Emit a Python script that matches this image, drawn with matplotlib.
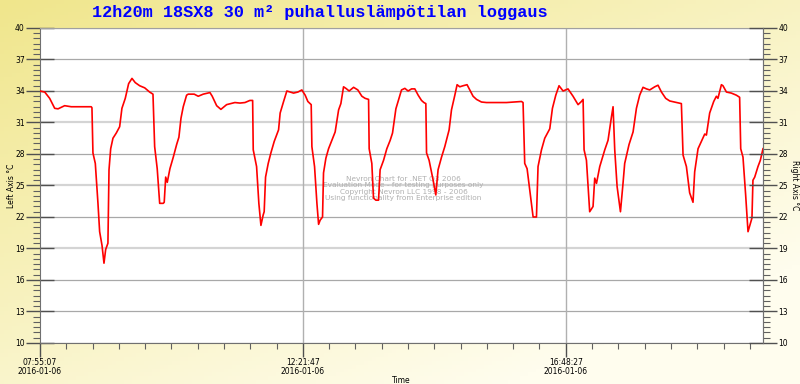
import datetime as dt
import numpy as np
import matplotlib
matplotlib.use("Agg")
import matplotlib.pyplot as plt
import matplotlib.dates as mdates
from matplotlib.ticker import MultipleLocator, FixedLocator

# data: minutes since start, temperature (°C)
start = dt.datetime(2016, 1, 6, 7, 55, 7)
minutes = [0, 4.8, 9.8, 14.9, 18.3, 25.0, 31.7, 41.9, 52.0, 52.7, 53.7, 56.1, 58.8, 60.5, 62.9,
           64.9, 66.6, 68.9, 70.0, 71.7, 74.0, 77.4, 80.8, 83.1, 86.5, 89.9, 93.3, 96.6, 101.1,
           106.2, 111.2, 114.6, 116.3, 118.9, 121.4, 125.0, 126.0, 127.5, 129.1, 131.8, 135.2,
           138.6, 140.9, 143.0, 145.3, 148.7, 150.4, 156.4, 160.5, 165.6, 172.4, 174.7, 179.2,
           183.5, 189.3, 197.7, 202.8, 207.9, 212.9, 215.7, 216.3, 219.7, 222.0, 224.1, 226.4,
           227.4, 228.8, 231.5, 234.2, 237.6, 242.0, 243.6, 247.1, 250.4, 253.8, 257.2, 261.6,
           265.6, 269.0, 271.7, 275.1, 275.8, 278.5, 280.9, 282.6, 284.2, 286.6, 287.6, 290.0,
           292.7, 296.1, 299.4, 302.9, 305.2, 307.9, 310.3, 313.6, 318.1, 322.4, 326.5, 329.8,
           333.3, 333.9, 336.6, 338.3, 340.7, 343.4, 345.0, 348.5, 351.8, 355.2, 357.6, 361.0,
           366.7, 370.1, 373.4, 376.9, 380.2, 383.6, 387.0, 389.4, 391.4, 392.1, 394.7, 398.8,
           401.5, 403.8, 407.3, 410.6, 415.0, 417.4, 420.8, 423.1, 425.8, 429.2, 433.2, 436.0,
           439.3, 442.8, 447.8, 452.9, 459.6, 466.4, 473.2, 488.4, 490.0, 491.7, 494.1, 496.8,
           500.2, 503.6, 505.2, 508.7, 512.0, 517.1, 519.8, 523.2, 526.5, 530.6, 535.6, 540.7,
           545.8, 549.2, 550.9, 551.9, 554.3, 557.6, 561.0, 562.7, 564.5, 567.8, 572.9, 576.2,
           579.7, 581.3, 583.0, 585.4, 588.8, 591.4, 593.1, 597.5, 601.6, 605.0, 608.3, 611.7,
           615.2, 618.5, 623.6, 626.9, 630.4, 634.7, 638.8, 645.6, 650.6, 652.3, 655.7, 659.0,
           662.4, 664.1, 667.5, 670.9, 674.3, 676.0, 679.3, 683.4, 686.1, 687.7, 691.2, 692.8,
           696.3, 701.3, 706.4, 709.7, 710.8, 713.1, 715.8, 718.2, 720.6, 722.2, 723.2, 725.0,
           728.3, 730.7, 733.4]
temps = [34.0, 33.9, 33.3, 32.35, 32.3, 32.6, 32.5, 32.5, 32.5, 32.4, 28.1, 27.1, 23.3, 20.6, 19.3,
         17.6, 18.9, 19.5, 26.5, 28.5, 29.5, 30.0, 30.6, 32.35, 33.3, 34.7, 35.2, 34.8, 34.5,
         34.3, 33.9, 33.7, 28.7, 26.6, 23.3, 23.3, 23.4, 25.8, 25.3, 26.6, 27.7,
         28.9, 29.6, 31.4, 32.5, 33.6, 33.7, 33.7, 33.5, 33.7, 33.85, 33.5, 32.6,
         32.25, 32.7, 32.9, 32.85, 32.9, 33.1, 33.1, 28.4, 26.8, 23.3, 21.2, 22.2,
         22.5, 25.8, 27.1, 28.1, 29.2, 30.3, 31.9, 33.0, 34.0, 33.9, 33.8, 33.9,
         34.1, 33.6, 33.0, 32.7, 28.7, 26.8, 23.3, 21.3, 21.7, 22.0, 26.2, 27.6,
         28.5, 29.3, 30.1, 32.2, 32.8, 34.4, 34.25, 34.0, 34.35, 34.1, 33.5, 33.3,
         33.2, 28.5, 27.1, 23.8, 23.6, 23.6, 26.5, 27.4, 28.5, 29.3, 30.0, 32.3,
         34.1, 34.25, 34.0, 34.2, 34.2, 33.6, 33.1, 32.9, 32.8, 28.1, 27.4, 25.5,
         24.1, 26.5, 27.7, 28.7, 30.3, 32.2, 33.6, 34.6, 34.4, 34.5, 34.6, 34.1,
         33.5, 33.2, 32.95, 32.9, 32.9, 32.9, 32.9, 33.0, 32.9, 27.1, 26.6, 24.6,
         22.0, 22.0, 26.8, 28.4, 29.5, 30.4, 32.35, 33.6, 34.5, 34.0, 34.2, 33.5,
         32.7, 33.0, 33.2, 28.4, 27.4, 22.5, 23.0, 25.7, 25.2, 26.8, 28.4, 29.3,
         31.55, 32.5, 28.4, 24.9, 22.5, 25.2, 27.1, 28.9, 30.1, 32.35, 33.6, 34.35,
         34.2, 34.1, 34.4, 34.55, 33.9, 33.3, 33.05, 32.9, 32.8, 27.9, 26.8, 24.3,
         23.4, 26.3, 28.5, 29.2, 29.9, 29.8, 31.9, 33.0, 33.5, 33.3, 34.6, 34.5,
         33.9, 33.8, 33.6, 33.4, 28.5, 27.7, 24.1, 20.6, 21.4, 21.9, 25.5, 25.8,
         26.8, 27.4, 28.5]
y_ticks = [10, 13, 16, 19, 22, 25, 28, 31, 34, 37, 40]
light_grid = [19, 25, 31]
title = "12h20m 18SX8 30 m² puhalluslämpötilan loggaus"
watermark = ("Nevron Chart for .NET Q3 2006\n"
             "Evaluation Mode - for testing purposes only\n"
             "Copyright Nevron LLC 1998 - 2006\n"
             "Using functionality from Enterprise edition")

times = [start + dt.timedelta(minutes=m) for m in minutes]
x_end = start + dt.timedelta(minutes=733.4)

fig = plt.figure(figsize=(8, 3.84), dpi=100)

# yellow gradient background
bg = fig.add_axes([0, 0, 1, 1], zorder=-10)
gx, gy = np.meshgrid(np.linspace(0, 1, 200), np.linspace(0, 1, 100))
g = np.clip(0.55 * gx + 0.65 * gy, 0, 1)
c0 = np.array([240, 230, 140]) / 255
c1 = np.array([255, 253, 238]) / 255
img = c0[None, None, :] * (1 - g[..., None]) + c1[None, None, :] * g[..., None]
bg.imshow(img, aspect="auto", extent=[0, 1, 0, 1])
bg.axis("off")

ax = fig.add_axes([0.05, 0.1068, 0.90375, 0.8203])
ax.set_facecolor("white")
ax.plot(times, temps, color="#ff0000", lw=1.2, zorder=5)

ax.set_ylim(10, 40)
ax.set_xlim(start, x_end)

for t in y_ticks:
    if t in light_grid:
        ax.axhline(t, color="#d4d4d4", lw=1.6, zorder=1)
    else:
        ax.axhline(t, color="#a8a8a8", lw=0.9, zorder=1)

major_x = [start + dt.timedelta(seconds=16000 * i) for i in range(3)]
minor_x = [start + dt.timedelta(seconds=1600 * i) for i in range(28)]
for d in major_x[1:]:
    ax.axvline(d, color="#b0b0b0", lw=1.0, zorder=1)

ax.xaxis.set_major_locator(FixedLocator(mdates.date2num(major_x)))
ax.xaxis.set_minor_locator(FixedLocator(mdates.date2num(minor_x)))
ax.xaxis.set_major_formatter(mdates.DateFormatter("%H:%M:%S\n%Y-%m-%d"))

ax.yaxis.set_major_locator(FixedLocator(y_ticks))
ax.yaxis.set_minor_locator(MultipleLocator(0.5))

for s in ["top", "right"]:
    ax.spines[s].set_color("#a0a0a0")
for s in ["left", "bottom"]:
    ax.spines[s].set_color("#707070")

ax.tick_params(axis="y", which="major", direction="inout", length=20, width=1,
               color="#505050", labelsize=5.5, pad=1)
ax.tick_params(axis="y", which="minor", direction="out", length=5, width=0.8, color="#606060")
ax.tick_params(axis="x", which="major", direction="out", length=10, width=1,
               color="#505050", labelsize=5.5, pad=1)
ax.tick_params(axis="x", which="minor", direction="out", length=4, width=0.8, color="#606060")
for lab in ax.get_xticklabels():
    lab.set_linespacing(0.95)

ax2 = ax.twinx()
ax2.set_ylim(10, 40)
ax2.yaxis.set_major_locator(FixedLocator(y_ticks))
ax2.yaxis.set_minor_locator(MultipleLocator(0.5))
ax2.tick_params(axis="y", which="major", direction="inout", length=20, width=1,
                color="#505050", labelsize=5.5, pad=1)
ax2.tick_params(axis="y", which="minor", direction="out", length=5, width=0.8, color="#606060")
for s in ax2.spines.values():
    s.set_visible(False)
ax2.spines["right"].set_visible(True)
ax2.spines["right"].set_color("#707070")

ax.set_ylabel("Left Axis °C", fontsize=5.5)
ax.yaxis.set_label_coords(-0.033, 0.5)
ax2.set_ylabel("Right Axis °C", fontsize=5.5, rotation=270, va="center")
ax2.yaxis.set_label_coords(1.043, 0.5)
ax.set_xlabel("Time", fontsize=5.5)
ax.xaxis.set_label_coords(0.5, -0.105)

ax.text(0.503, 0.49, watermark, transform=ax.transAxes, ha="center", va="center",
        fontsize=5.3, color="#b0b0b0", linespacing=1.1, zorder=3)

fig.text(0.40, 0.967, title, ha="center", va="center", color="#0000ff",
         fontsize=12.2, fontweight="bold", family="Liberation Mono")

fig.savefig("out.png", dpi=100)
